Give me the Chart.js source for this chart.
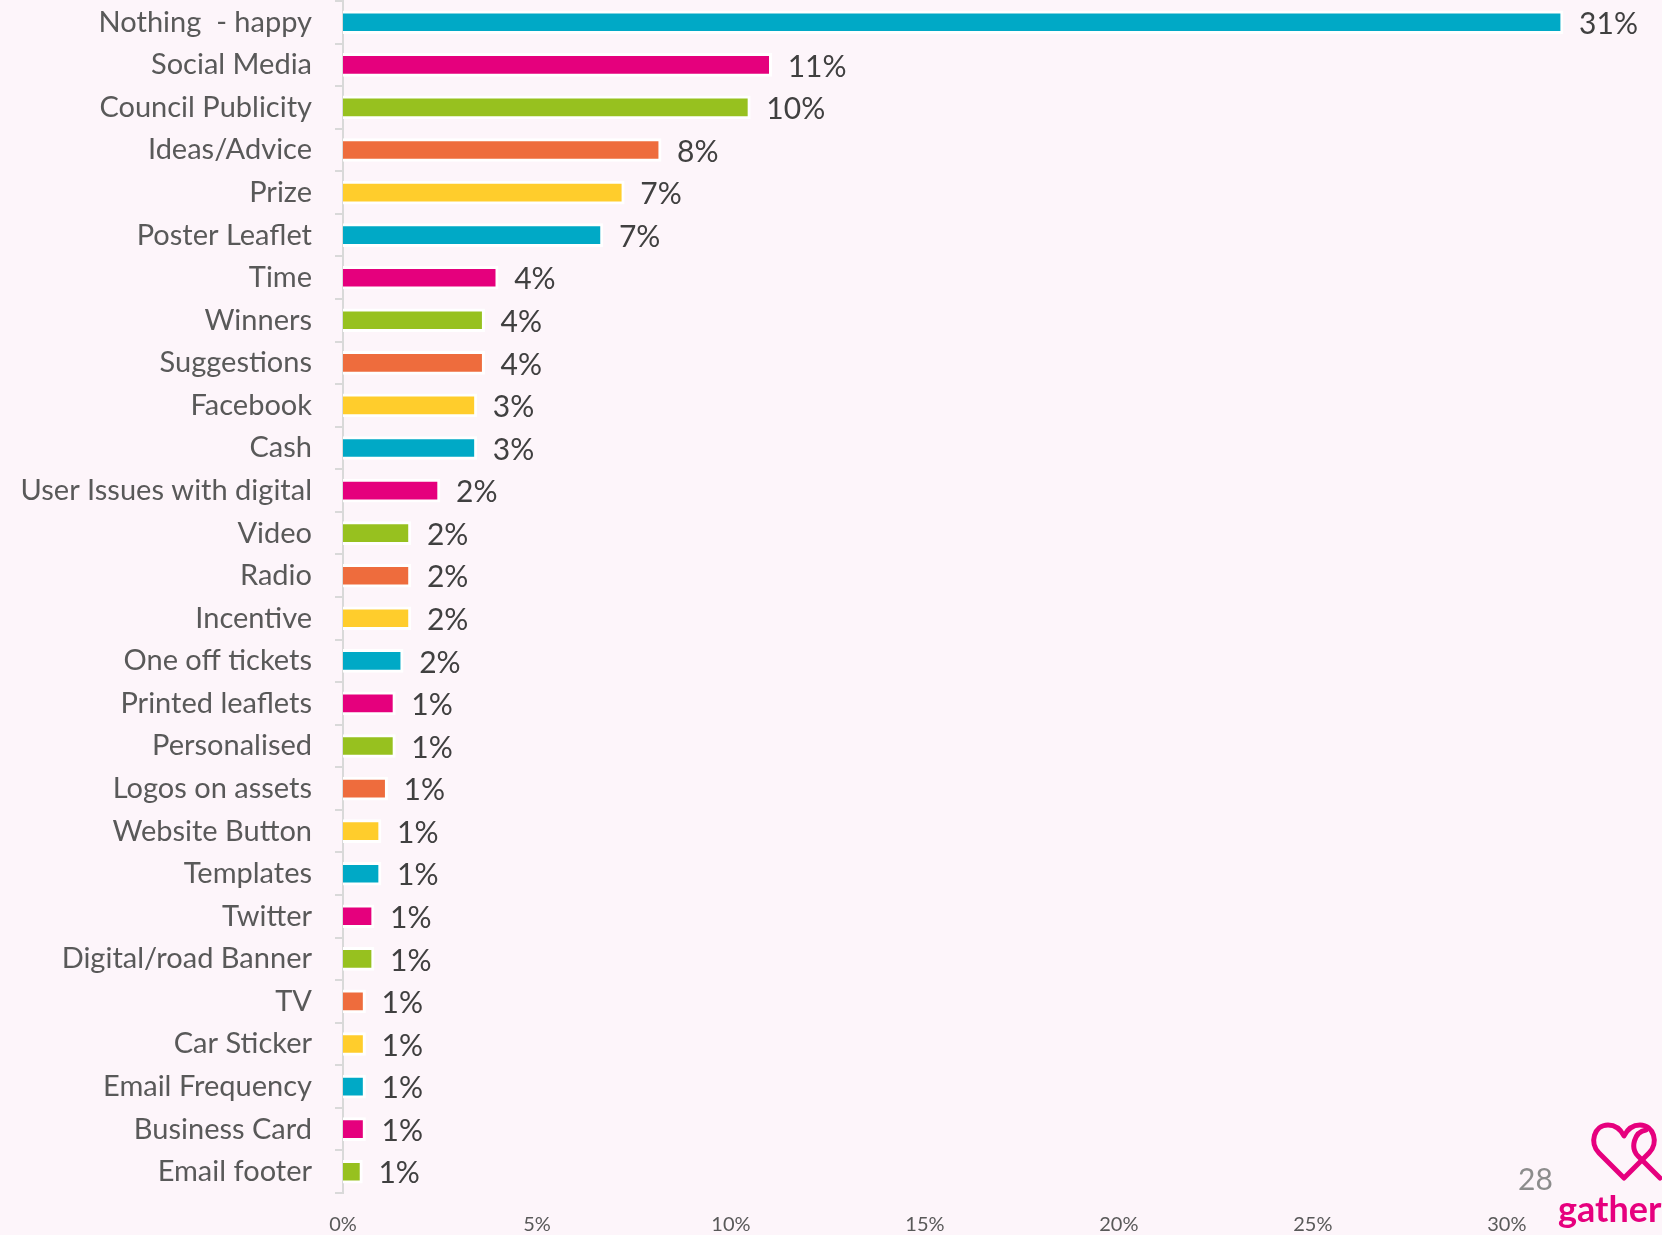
<!DOCTYPE html>
<html>
<head>
<meta charset="utf-8">
<script src="https://cdn.jsdelivr.net/npm/chart.js@4"></script>
<style>
  html, body { margin: 0; padding: 0; background: #fdf5fa; overflow: hidden; }
  #wrap { position: relative; width: 1662px; height: 1235px; overflow: hidden; }
  #pagina { position: absolute; left: 1518px; top: 1160px; font: 30px Lato, sans-serif; color: #8c8c8c; }
  #marca { position: absolute; left: 1558px; top: 1186px; font: bold 36px Lato, sans-serif; color: #e6007e; white-space: nowrap; }
  #corazones { position: absolute; left: 1590px; top: 1118px; }
</style>
</head>
<body>
<div id="wrap">
  <canvas id="grafico" width="1662" height="1235"></canvas>
  <div id="pagina">28</div>
  <svg id="corazones" width="72" height="66" viewBox="0 0 72 66">
    <path d="M70 60 L48 38 C40 30 44 14 56 12" fill="none" stroke="#e6007e" stroke-width="5" stroke-linejoin="round" stroke-linecap="round"/>
    <path d="M34 60 L9 35 C-1 25 4 7 18 7 C26 7 31 12 34 18 C37 12 42 7 50 7 C64 7 69 25 59 35 Z" fill="none" stroke="#e6007e" stroke-width="5" stroke-linejoin="round"/>
  </svg>
  <div id="marca">gather</div>
</div>
<script>
// Qué mejoraría la participación (% de respuestas)
const categorias = [
  'Nothing  - happy', 'Social Media', 'Council Publicity', 'Ideas/Advice', 'Prize',
  'Poster Leaflet', 'Time', 'Winners', 'Suggestions', 'Facebook', 'Cash',
  'User Issues with digital', 'Video', 'Radio', 'Incentive', 'One off tickets',
  'Printed leaflets', 'Personalised', 'Logos on assets', 'Website Button', 'Templates',
  'Twitter', 'Digital/road Banner', 'TV', 'Car Sticker', 'Email Frequency',
  'Business Card', 'Email footer'
];
const valores = [
  31.45, 11.05, 10.5, 8.2, 7.25,
  6.7, 4.0, 3.65, 3.65, 3.45, 3.45,
  2.5, 1.75, 1.75, 1.75, 1.55,
  1.35, 1.35, 1.15, 0.98, 0.98,
  0.8, 0.8, 0.58, 0.58, 0.58,
  0.58, 0.5
];
const etiquetas = [
  '31%', '11%', '10%', '8%', '7%',
  '7%', '4%', '4%', '4%', '3%', '3%',
  '2%', '2%', '2%', '2%', '2%',
  '1%', '1%', '1%', '1%', '1%',
  '1%', '1%', '1%', '1%', '1%',
  '1%', '1%'
];
const paleta = ['#00a9c6', '#e5007d', '#97c11f', '#ee6c3d', '#ffcd2c'];
const ticksX = [0, 5, 10, 15, 20, 25, 30];

const colores = categorias.map((c, i) => paleta[i % paleta.length]);

// Etiquetas de valor al final de cada barra
const etiquetasBarras = {
  id: 'etiquetasBarras',
  afterDatasetsDraw(chart) {
    const { ctx } = chart;
    const meta = chart.getDatasetMeta(0);
    ctx.save();
    ctx.font = '30px Lato, sans-serif';
    ctx.fillStyle = '#404040';
    ctx.textAlign = 'left';
    ctx.textBaseline = 'middle';
    meta.data.forEach((bar, i) => {
      ctx.fillText(etiquetas[i], bar.x + 16, bar.y + 2);
    });
    ctx.restore();
  }
};

const ctx = document.getElementById('grafico').getContext('2d');
new Chart(ctx, {
  type: 'bar',
  data: {
    labels: categorias,
    datasets: [{
      data: valores,
      backgroundColor: colores,
      borderColor: '#ffffff',
      borderWidth: 3,
      borderSkipped: 'start',
      barThickness: 23,
      categoryPercentage: 1
    }]
  },
  options: {
    indexAxis: 'y',
    responsive: false,
    animation: false,
    devicePixelRatio: 1,
    layout: { padding: { top: 1, right: 0, left: 0, bottom: 0 } },
    plugins: {
      legend: { display: false },
      tooltip: { enabled: false }
    },
    scales: {
      x: {
        min: 0,
        max: 34,
        afterBuildTicks: (scale) => { scale.ticks = ticksX.map(v => ({ value: v })); },
        afterFit: (scale) => { scale.height = 42; scale.paddingLeft = 0; scale.paddingRight = 0; },
        grid: { display: false, drawTicks: false },
        border: { display: false },
        ticks: {
          padding: 20,
          color: '#595959',
          font: { family: 'Lato', size: 20 },
          callback: (v) => v + '%'
        }
      },
      y: {
        afterFit: (scale) => { scale.width = 343; scale.paddingTop = 0; scale.paddingBottom = 0; },
        grid: { drawOnChartArea: false, drawTicks: true, tickLength: 8, color: '#d9d9d9', lineWidth: 2 },
        border: { display: true, color: '#d9d9d9', width: 2 },
        ticks: {
          padding: 23,
          color: '#595959',
          font: { family: 'Lato', size: 29 }
        }
      }
    }
  },
  plugins: [etiquetasBarras]
});
</script>
</body>
</html>
